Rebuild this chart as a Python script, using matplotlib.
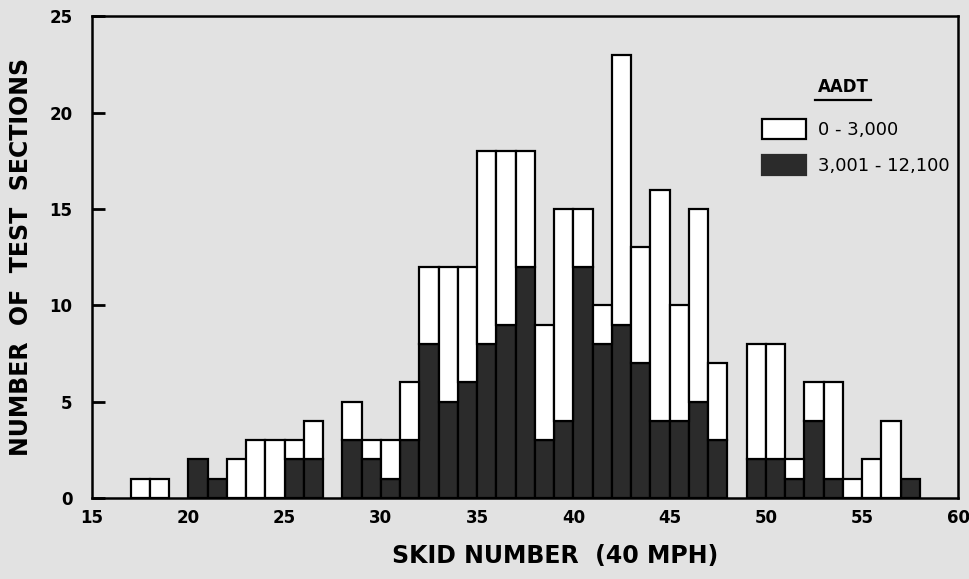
import numpy as np
import matplotlib.pyplot as plt
from matplotlib.patches import Patch

# skid number bins (left edges, width 1)
bins = list(range(15, 60))

# total number of test sections per bin
totals = [0, 0, 1, 1, 0, 2, 1, 2, 3, 3,
          3, 4, 0, 5, 3, 3, 6, 12, 12, 12,
          18, 18, 18, 9, 15, 15, 10, 23, 13, 16,
          10, 15, 7, 0, 8, 8, 2, 6, 6, 1,
          2, 4, 1, 0, 0]

# sections with AADT 3,001 - 12,100 (dark, bottom part)
high_aadt = [0, 0, 0, 0, 0, 2, 1, 0, 0, 0,
             2, 2, 0, 3, 2, 1, 3, 8, 5, 6,
             8, 9, 12, 3, 4, 12, 8, 9, 7, 4,
             4, 5, 3, 0, 2, 2, 1, 4, 1, 0,
             0, 0, 1, 0, 0]

yticks = [0, 5, 10, 15, 20, 25]
xticks = [15, 20, 25, 30, 35, 40, 45, 50, 55, 60]

bins = np.array(bins)
totals = np.array(totals)
high_aadt = np.array(high_aadt)
low_aadt = totals - high_aadt

bg = '#e2e2e2'
dark = '#2b2b2b'
plt.rcParams['font.family'] = 'DejaVu Sans'
plt.rcParams['font.weight'] = 'bold'

fig = plt.figure(figsize=(9.69, 5.79), dpi=100, facecolor=bg)
ax = fig.add_axes([0.095, 0.14, 0.894, 0.832])
ax.set_facecolor(bg)

m = high_aadt > 0
ax.bar(bins[m], high_aadt[m], width=1, align='edge', color=dark,
       edgecolor='black', linewidth=1.6)
m = low_aadt > 0
ax.bar(bins[m], low_aadt[m], bottom=high_aadt[m], width=1, align='edge',
       color='white', edgecolor='black', linewidth=1.6)

ax.set_xlim(15, 60)
ax.set_ylim(0, 25)
ax.set_xticks(xticks)
ax.set_yticks(yticks)
ax.tick_params(axis='y', direction='in', length=9, width=2, labelsize=12, pad=14)
ax.tick_params(axis='x', length=0, labelsize=12, pad=8)
for s in ax.spines.values():
    s.set_linewidth(1.8)

ax.set_xlabel('SKID NUMBER  (40 MPH)', fontsize=17, fontweight='bold', labelpad=10)
ax.xaxis.set_label_coords(0.535, -0.095)
ax.set_ylabel('NUMBER  OF  TEST  SECTIONS', fontsize=17, fontweight='bold', labelpad=12)

handles = [Patch(facecolor='white', edgecolor='black', linewidth=1.6),
           Patch(facecolor=dark, edgecolor=dark, linewidth=1.6)]
leg = ax.legend(handles, ['0 - 3,000', '3,001 - 12,100'], loc='upper left',
                bbox_to_anchor=(0.755, 0.82), frameon=False, fontsize=13,
                handlelength=2.4, handleheight=1.3, handletextpad=0.7,
                labelspacing=0.9)
for t in leg.get_texts():
    t.set_fontweight('normal')
ax.text(0.867, 0.834, 'AADT', transform=ax.transAxes, ha='center', va='bottom',
        fontsize=12)
ax.plot([0.835, 0.899], [0.826, 0.826], transform=ax.transAxes, color='black',
        linewidth=1.6, clip_on=False)

fig.savefig('out.png', dpi=100, facecolor=bg)
